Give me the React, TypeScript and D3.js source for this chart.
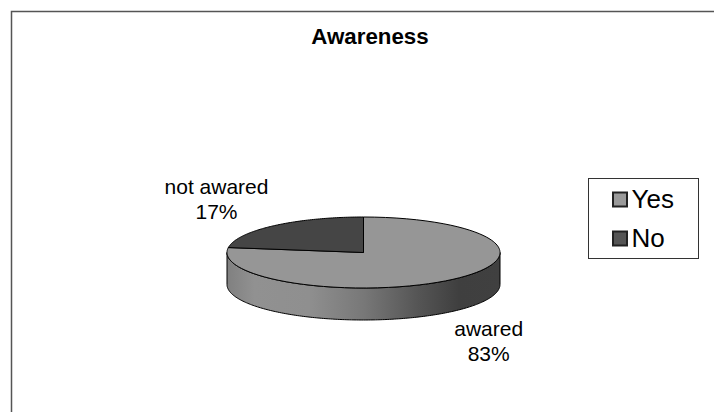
import React from "react";
import * as d3 from "d3";

const categories = ["Yes", "No"];
const sliceLabels = ["awared", "not awared"];
const values = [83, 17];
const percentLabels = ["83%", "17%"];
const faceColors = ["#969696", "#454545"];
const swatchColors = ["#9a9a9a", "#555555"];

const WIDTH = 714;
const HEIGHT = 412;
const CX = 363.5;
const CY = 252.5;
const RX = 136.5;
const RY = 35.5;
const DEPTH = 32;
const FORESHORTEN = 0.43;

// Viewing-angle distortion: slices near the sides of the tilted disc spread out.
const project = (a: number) => a + FORESHORTEN * Math.sin(2 * a);
const rimPoint = (a: number, dy = 0): [number, number] => {
  const p = project(a);
  return [CX + RX * Math.sin(p), CY - RY * Math.cos(p) + dy];
};

const sliceArcs = d3
  .pie<number>()
  .sort(null)
  .value((d) => d)(values);

function slicePath(start: number, end: number) {
  const steps = d3.range(0, 121).map((i) => start + ((end - start) * i) / 120);
  const line = d3.line<[number, number]>();
  return `M${CX},${CY}L${line(steps.map((a) => rimPoint(a)))!.slice(1)}Z`;
}

// Visible outer wall of the disc: the lower half of the rim, extruded downward.
function wallPath() {
  const xs = d3.range(0, 181).map((i) => (Math.PI * i) / 180);
  const top = xs.map((t): [number, number] => [CX + RX * Math.cos(t), CY + RY * Math.sin(t)]);
  const bottom = [...xs].reverse().map((t): [number, number] => [CX + RX * Math.cos(t), CY + RY * Math.sin(t) + DEPTH]);
  return d3.line()([...top, ...bottom])! + "Z";
}

const wallStops: [number, string][] = [
  [0, "#808080"],
  [0.1, "#919191"],
  [0.3, "#8f8f8f"],
  [0.5, "#787878"],
  [0.7, "#555555"],
  [0.85, "#3f3f3f"],
  [1, "#404040"],
];

const font = "'Liberation Sans', Arial, sans-serif";

export default function App() {
  return (
    <svg
      width={WIDTH}
      height={HEIGHT}
      style={{ position: "absolute", left: 0, top: 0, background: "#fff" }}
      fontFamily={font}
    >
      <defs>
        <linearGradient id="wall" gradientUnits="userSpaceOnUse" x1={CX - RX} x2={CX + RX} y1={0} y2={0}>
          {wallStops.map(([o, c]) => (
            <stop key={o} offset={o} stopColor={c} />
          ))}
        </linearGradient>
      </defs>

      {/* Chart frame runs off the right and bottom of the page */}
      <path d={`M11.5,${HEIGHT}V11.5H${WIDTH}`} fill="none" stroke="#555" strokeWidth={1.5} />

      <text x={370} y={44} textAnchor="middle" fontSize={22.3} fontWeight="bold" fill="#000">
        Awareness
      </text>

      <path d={wallPath()} fill="url(#wall)" stroke="#000" strokeWidth={1} />
      {sliceArcs.map((arc, i) => (
        <path
          key={categories[i]}
          d={slicePath(arc.startAngle, arc.endAngle)}
          fill={faceColors[i]}
          stroke="#000"
          strokeWidth={1}
          strokeLinejoin="round"
        />
      ))}

      <g fontSize={21} textAnchor="middle" fill="#000">
        <text x={488.7} y={336}>{sliceLabels[0]}</text>
        <text x={488.7} y={361}>{percentLabels[0]}</text>
        <text x={216.5} y={194}>{sliceLabels[1]}</text>
        <text x={216.5} y={219}>{percentLabels[1]}</text>
      </g>

      <rect x={588.5} y={178.5} width={110} height={80} fill="#fff" stroke="#333" strokeWidth={1} />
      {categories.map((c, i) => {
        const y = 192.5 + i * 39;
        return (
          <g key={c}>
            <rect x={613} y={y} width={14} height={14} fill={swatchColors[i]} stroke="#222" strokeWidth={2} />
            <text x={631.5} y={y + 15} fontSize={26} fill="#000">{c}</text>
          </g>
        );
      })}
    </svg>
  );
}
